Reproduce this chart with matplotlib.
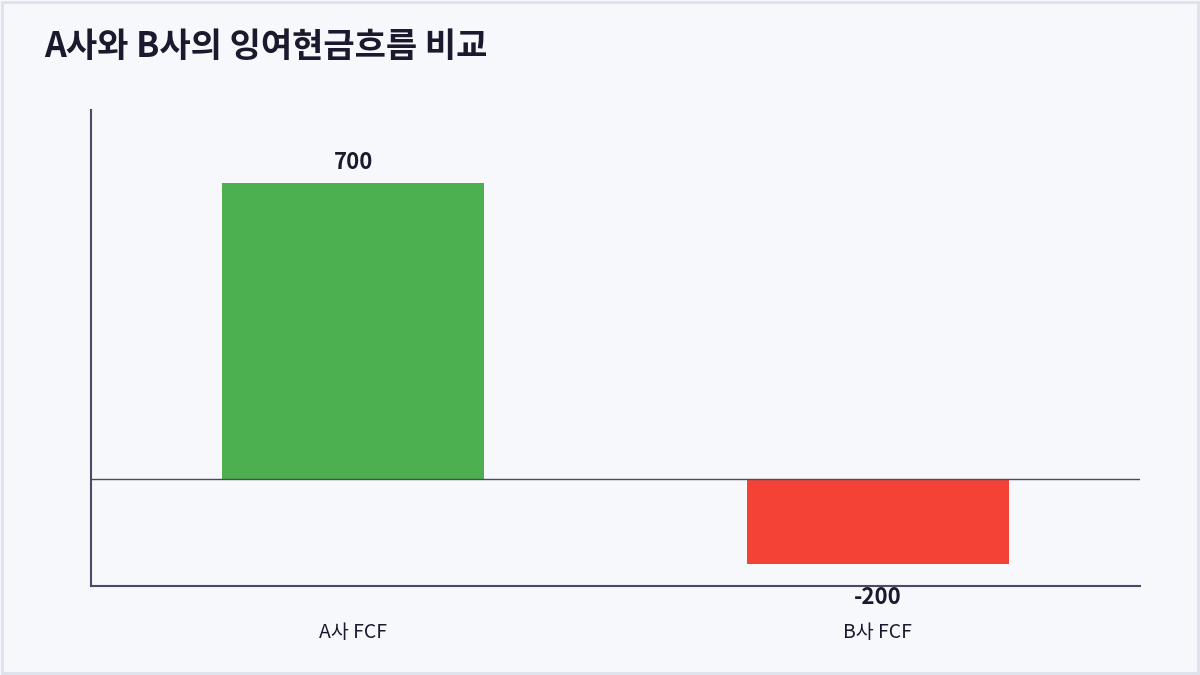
import matplotlib
matplotlib.use("Agg")
import matplotlib.pyplot as plt
from matplotlib.patches import Rectangle

plt.rcParams['font.family'] = ['Noto Sans CJK KR', 'DejaVu Sans']

# 데이터
categories = ['A사 FCF', 'B사 FCF']
fcf = [700, -200]
bar_colors = ['#4CAF50', '#F44336']

bg = '#F7F8FC'
ink = '#1A1A2E'
axis_col = '#4A4A68'

fig = plt.figure(figsize=(12, 6.75), dpi=100, facecolor=bg)
fig.patches.append(Rectangle((0.002, 0.003), 0.996, 0.994, transform=fig.transFigure,
                             fill=False, edgecolor='#DDE3EC', lw=2))

ax = fig.add_axes([91/1200, 89/675, 1049/1200, 476/675])
ax.set_facecolor(bg)

x = range(len(categories))
ax.bar(x, fcf, width=0.5, color=bar_colors, zorder=2)
ax.axhline(0, color=axis_col, lw=1, zorder=3)

for i, v in enumerate(fcf):
    if v >= 0:
        ax.annotate(f'{v}', (i, v), xytext=(0, 6.5), textcoords='offset points',
                    ha='center', va='bottom', fontsize=16, fontweight='bold', color=ink)
    else:
        ax.annotate(f'{v}', (i, v), xytext=(0, -16), textcoords='offset points',
                    ha='center', va='top', fontsize=16, fontweight='bold', color=ink)

ax.set_xlim(-0.5, 1.5)
ax.set_ylim(-252, 873)
ax.set_xticks(list(x))
ax.set_xticklabels(categories, fontsize=14, color=ink)
ax.set_yticks([])
ax.tick_params(axis='x', length=0, pad=26)

for s in ['top', 'right']:
    ax.spines[s].set_visible(False)
for s in ['left', 'bottom']:
    ax.spines[s].set_color(axis_col)
    ax.spines[s].set_linewidth(1.5)

fig.text(44/1200, 1 - 46/675, 'A사와 B사의 잉여현금흐름 비교', fontsize=24.5,
         fontweight='bold', color=ink, ha='left', va='center')

fig.savefig('out.png', dpi=100, facecolor=bg)
